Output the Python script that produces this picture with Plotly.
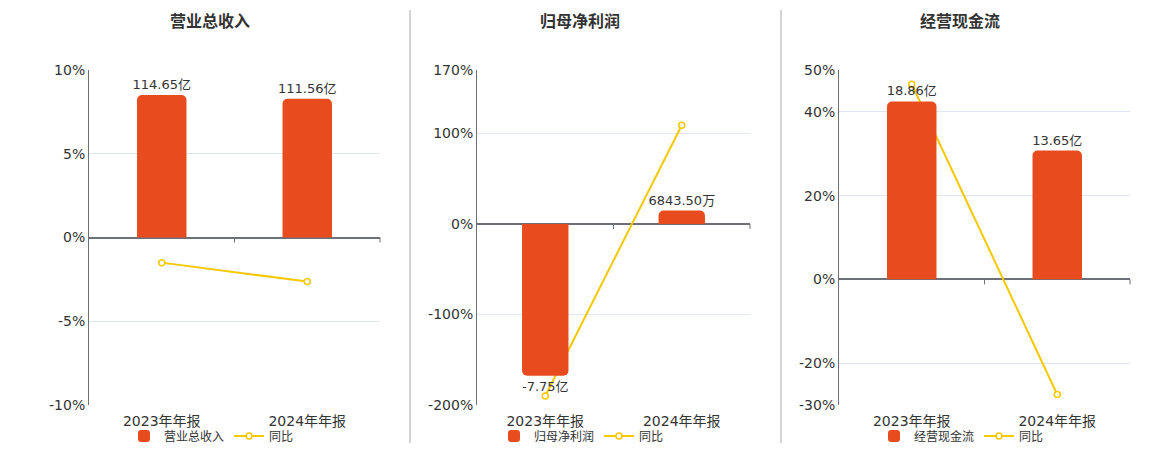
import plotly.graph_objects as go

categories = ["2023年年报", "2024年年报"]

titles = ["营业总收入", "归母净利润", "经营现金流"]
bar_names = ["营业总收入", "归母净利润", "经营现金流"]

# bar values in 亿
revenue = [114.65, 111.56]
net_profit = [-7.75, 0.684350]
cash_flow = [18.86, 13.65]

# YoY (%)
revenue_yoy = [-1.5, -2.63]
net_profit_yoy = [-190.0, 109.0]
cash_flow_yoy = [46.6, -27.5]

pct_ticks = [[-10, -5, 0, 5, 10], [-200, -100, 0, 100, 170], [-30, -20, 0, 20, 40, 50]]
pct_ranges = [[-10, 10], [-200, 170], [-30, 50]]
bar_scale = [13.47, 0.04624, 0.4438]  # 亿 per % so that zeros align

BAR_COLOR = "#E84C1E"
LINE_COLOR = "#F5C800"
FONT = "DejaVu Sans, Noto Sans CJK SC, sans-serif"


def fmt(v):
    if abs(v) < 1:
        return f"{v * 10000:.2f}万"
    return f"{v:.2f}亿"


bars = [revenue, net_profit, cash_flow]
lines = [revenue_yoy, net_profit_yoy, cash_flow_yoy]

W, H = 1160, 450
x_domains = [(89, 380), (477, 750), (839, 1130)]
legend_x = [124, 494, 874]
title_x = [210, 580, 960]
y_dom = [1 - 405 / H, 1 - 70 / H]

fig = go.Figure()
layout = dict(
    width=W, height=H, margin=dict(l=0, r=0, t=0, b=0, autoexpand=False),
    paper_bgcolor="white", plot_bgcolor="white",
    font=dict(family=FONT, color="#333333", size=14),
    barcornerradius=5,
    showlegend=True,
)
shapes = []
annotations = []

for i in range(3):
    n = i + 1
    xa = "x" if n == 1 else f"x{n}"
    ya = "y" if n == 1 else f"y{n}"
    yb = f"y{n + 3}"
    lg = "legend" if n == 1 else f"legend{n}"

    fig.add_trace(go.Bar(
        x=categories, y=bars[i], name=bar_names[i], xaxis=xa, yaxis=yb,
        marker=dict(color=BAR_COLOR, line=dict(width=0)), width=0.34,
        text=[fmt(v) for v in bars[i]], textposition="outside",
        constraintext="none",
        textfont=dict(size=13, color="#333333"), cliponaxis=False,
        legend=lg, hoverinfo="skip",
    ))
    fig.add_trace(go.Scatter(
        x=categories, y=lines[i], name="同比", xaxis=xa, yaxis=ya,
        mode="lines+markers",
        line=dict(color=LINE_COLOR, width=2),
        marker=dict(symbol="circle", size=6, color="white",
                    line=dict(color=LINE_COLOR, width=1.5)),
        legend=lg, cliponaxis=False, hoverinfo="skip",
    ))

    d0, d1 = x_domains[i]
    xkey = "xaxis" if n == 1 else f"xaxis{n}"
    ykey = "yaxis" if n == 1 else f"yaxis{n}"
    layout[xkey] = dict(
        domain=[d0 / W, d1 / W], anchor=ya, type="category",
        showline=False, showgrid=False, ticks="", zeroline=False,
        automargin=False, ticklabelstandoff=6,
        tickfont=dict(size=14, color="#333333"), fixedrange=True,
    )
    layout[ykey] = dict(
        domain=y_dom, anchor=xa, range=pct_ranges[i],
        tickvals=pct_ticks[i], ticktext=[f"{t}%" for t in pct_ticks[i]],
        showgrid=True, gridcolor="#E0E6F1", gridwidth=1,
        showline=True, linecolor="#6E7079", linewidth=1,
        zeroline=True, zerolinecolor="#6E7079", zerolinewidth=2,
        automargin=False,
        ticks="", tickfont=dict(size=14, color="#333333"), fixedrange=True,
    )
    k = bar_scale[i]
    layout[f"yaxis{n + 3}"] = dict(
        overlaying=ya, anchor=xa, visible=False,
        range=[pct_ranges[i][0] * k, pct_ranges[i][1] * k], fixedrange=True,
    )
    layout[lg] = dict(
        orientation="h", x=legend_x[i] / W, y=1 - 436 / H,
        xanchor="left", yanchor="middle",
        font=dict(size=12, color="#333333"), bgcolor="rgba(0,0,0,0)",
        itemwidth=30, tracegroupgap=0,
    )
    # small tick marks on the zero line at category boundaries
    for xd in (0.5, 1.0):
        shapes.append(dict(
            type="line", xref=f"{xa} domain", x0=xd, x1=xd,
            yref=ya, ysizemode="pixel", yanchor=0, y0=0, y1=-5,
            line=dict(color="#6E7079", width=1),
        ))
    annotations.append(dict(
        text=f"<b>{titles[i]}</b>", x=title_x[i] / W, y=1 - 22 / H,
        xref="paper", yref="paper", showarrow=False,
        xanchor="center", yanchor="middle",
        font=dict(size=16, color="#333333"),
    ))

for sx in (410, 781):
    shapes.append(dict(
        type="line", xref="paper", yref="paper",
        x0=sx / W, x1=sx / W, y0=1 - 10 / H, y1=1 - 443 / H,
        line=dict(color="#AAAAAA", width=1),
    ))

layout["shapes"] = shapes
layout["annotations"] = annotations
fig.update_layout(**layout)
fig.write_html("out.html")
